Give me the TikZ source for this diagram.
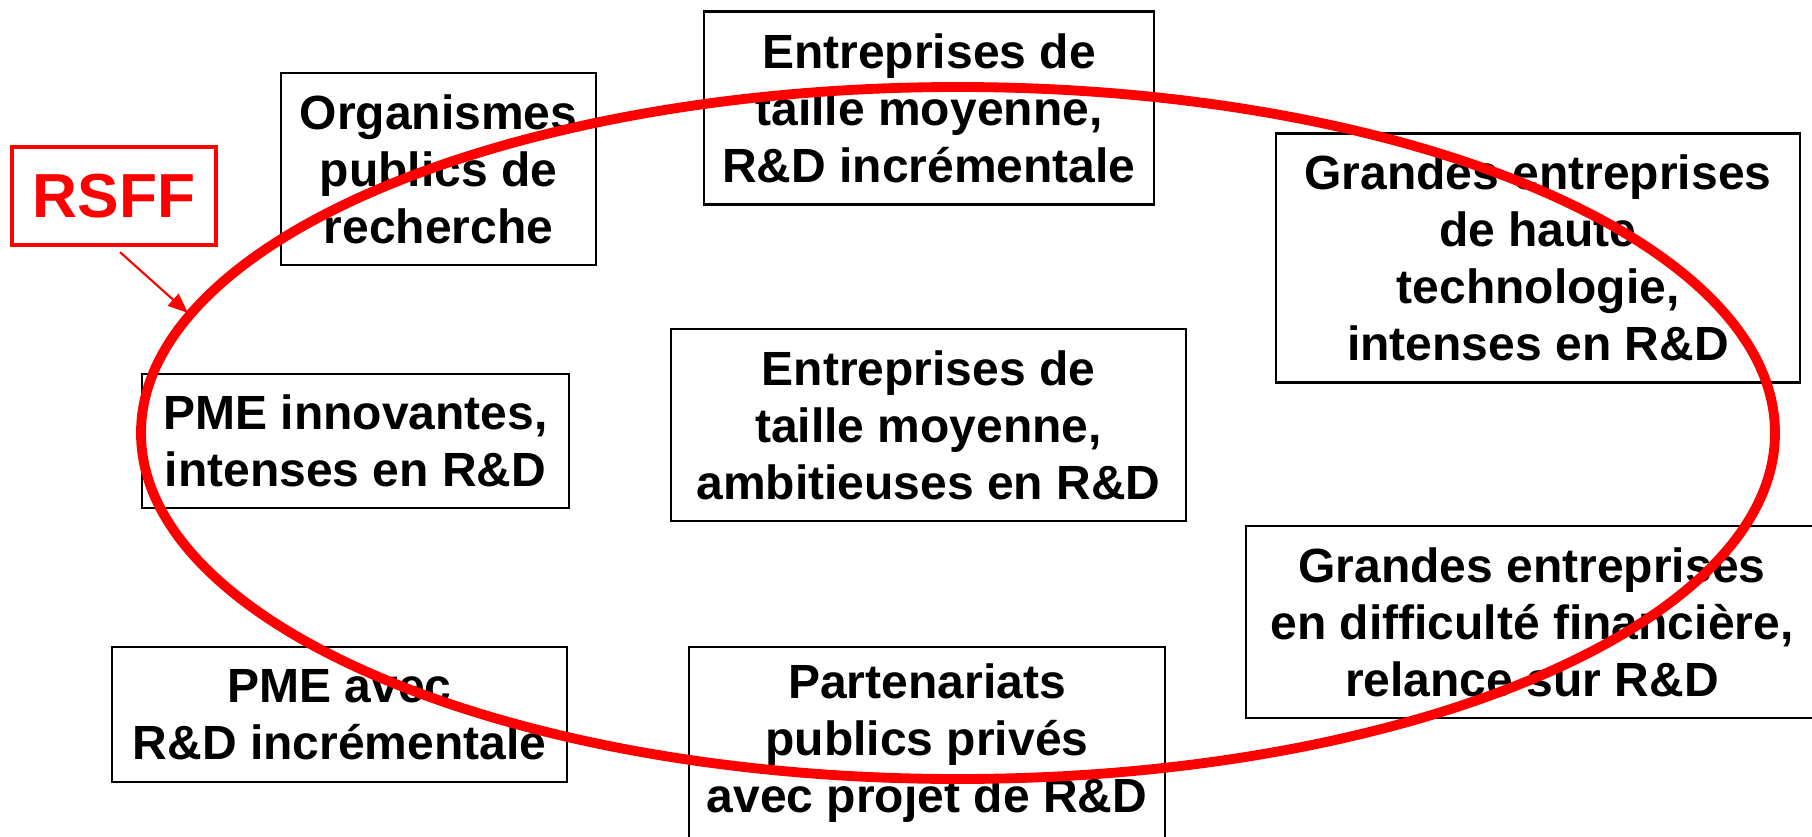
\documentclass[tikz,border=0pt]{standalone}
\usepackage{fontspec}
\setmainfont{Liberation Sans}
\usetikzlibrary{arrows.meta}
\tikzset{%
    every node/.style={font=\bfseries\fontsize{13.66pt}{16.2pt}\selectfont},
    box/.style={draw, line width=0.7pt, align=center, inner sep=0pt},
    redbox/.style={draw=red, text=red, line width=1pt, inner sep=0pt,
    	font=\bfseries\fontsize{17.7pt}{20pt}\selectfont},
    ring/.style={draw=red, line width=2.8pt}
}
\begin{document}
\begin{tikzpicture}
  \useasboundingbox (0cm, 0cm) rectangle (18.12cm, 8.36cm);
  \node (org) [box, minimum width=3.15cm, minimum height=1.92cm] at (4.385cm, 6.67cm) {Organismes\\publics de\\recherche};
  \node (etitop) [box, minimum width=4.5cm, minimum height=1.93cm] at (9.29cm, 7.28cm) {Entreprises de\\taille moyenne,\\R\&D incrémentale};
  \node (gehaute) [box, minimum width=5.24cm, minimum height=2.49cm] at (15.38cm, 5.78cm) {Grandes entreprises\\de haute\\technologie,\\intenses en R\&D};
  \node (pmeinn) [box, minimum width=4.27cm, minimum height=1.34cm] at (3.555cm, 3.95cm) {PME innovantes,\\intenses en R\&D};
  \node (etimid) [box, minimum width=5.15cm, minimum height=1.92cm] at (9.285cm, 4.11cm) {Entreprises de\\taille moyenne,\\ambitieuses en R\&D};
  \node (gediff) [box, minimum width=5.72cm, minimum height=1.92cm] at (15.32cm, 2.14cm) {Grandes entreprises\\en difficulté financière,\\relance sur R\&D};
  \node (pmeavec) [box, minimum width=4.55cm, minimum height=1.35cm] at (3.395cm, 1.215cm) {PME avec\\R\&D incrémentale};
  \node (ppp) [box, minimum width=4.76cm, minimum height=1.92cm] at (9.27cm, 0.93cm) {Partenariats\\publics privés\\avec projet de R\&D};

  \node (rsff) [redbox, minimum width=2.04cm, minimum height=0.98cm] at (1.14cm, 6.4cm) {RSFF};
  \coordinate (ringc) at (9.58cm, 4.03cm);
  \coordinate (tip) at (1.88cm, 5.23cm);
  \draw [ring] (ringc) ellipse [x radius=8.17cm, y radius=3.46cm];
  \draw [red, line width=0.6pt, -{Triangle[length=0.2cm, width=0.16cm]}, shorten <=0.08cm] (rsff.south) -- (tip);
\end{tikzpicture}
\end{document}
